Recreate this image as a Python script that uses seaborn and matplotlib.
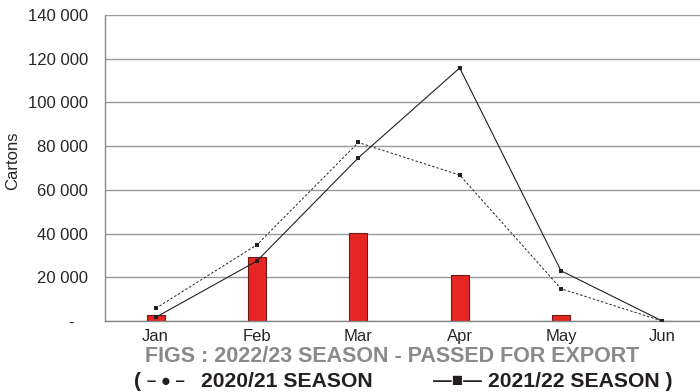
import numpy as np
import pandas as pd
import matplotlib
matplotlib.use("Agg")
import matplotlib.pyplot as plt
import seaborn as sns

# --- data ---
months = ["Jan", "Feb", "Mar", "Apr", "May", "Jun"]
season_2223 = [2800, 29400, 40100, 20900, 2900, 0]
season_2021 = [5800, 34900, 81700, 66800, 14800, 0]
season_2122 = [1700, 27500, 74700, 115800, 23000, 0]
y_ticks = [0, 20000, 40000, 60000, 80000, 100000, 120000, 140000]

sns.set_style("white")
plt.rcParams["font.family"] = ["Liberation Sans", "DejaVu Sans"]

fig = plt.figure(figsize=(7, 3.92), dpi=100)
ax = fig.add_axes([0.15, 0.181, 0.8686, 0.7806])

bars = pd.DataFrame({"month": months, "cartons": season_2223})
sns.barplot(data=bars, x="month", y="cartons", color="#e52623", width=0.18,
            edgecolor="#6e1715", linewidth=0.8, saturation=1, ax=ax, zorder=2)

pos = np.arange(len(months))
lines = pd.DataFrame({"pos": pos, "a": season_2021, "b": season_2122})
sns.lineplot(data=lines, x="pos", y="a", color="#222222", linewidth=0.7,
             linestyle=(0, (2.5, 2)), marker="s", markersize=2.2, markeredgewidth=0,
             ax=ax, zorder=3)
sns.lineplot(data=lines, x="pos", y="b", color="#222222", linewidth=0.8,
             marker="s", markersize=2.5, markeredgewidth=0, ax=ax, zorder=3)

ax.set_xlim(-0.5, 5.5)
ax.set_ylim(0, 140000)
ax.set_yticks(y_ticks)
ax.set_yticklabels(["-   "] + [f"{v:,}".replace(",", " ") for v in y_ticks[1:]], fontsize=12)
ax.set_xticks(pos)
ax.set_xticklabels(months, fontsize=12)
ax.set_xticks(np.arange(-0.5, 5.6, 1), minor=True)
ax.tick_params(axis="x", which="major", length=0, pad=6)
ax.tick_params(axis="x", which="minor", length=6, color="#888888", width=1, direction="out")
ax.tick_params(axis="y", length=5, color="#888888", width=1, direction="out", pad=7)
ax.yaxis.grid(True, color="#999999", linewidth=1)
ax.set_axisbelow(True)
for s in ["top", "right"]:
    ax.spines[s].set_visible(False)
for s in ["left", "bottom"]:
    ax.spines[s].set_color("#888888")
    ax.spines[s].set_linewidth(1)
ax.set_xlabel("")
ax.set_ylabel("")

fig.text(0.018, 0.59, "Cartons", rotation=90, ha="center", va="center", fontsize=12)
fig.text(0.56, 0.090, "FIGS : 2022/23 SEASON - PASSED FOR EXPORT", ha="center", va="center",
         fontsize=15.5, fontweight="bold", color="#8a8a8a")
legend_kw = dict(va="center", fontweight="bold", color="#231f20")
fig.text(134 / 700, 0.027, "(", ha="left", fontsize=15.2, **legend_kw)
fig.text(166 / 700, 0.027, "\u2013 \u25cf \u2013", ha="center", fontsize=12, **legend_kw)
fig.text(373 / 700, 0.027, "2020/21 SEASON", ha="right", fontsize=15.2, **legend_kw)
fig.text(457 / 700, 0.027, "\u2014\u25a0\u2014", ha="center", fontsize=13.5, **legend_kw)
fig.text(488 / 700, 0.027, "2021/22 SEASON )", ha="left", fontsize=15.2, **legend_kw)

fig.savefig("out.png", dpi=100)
